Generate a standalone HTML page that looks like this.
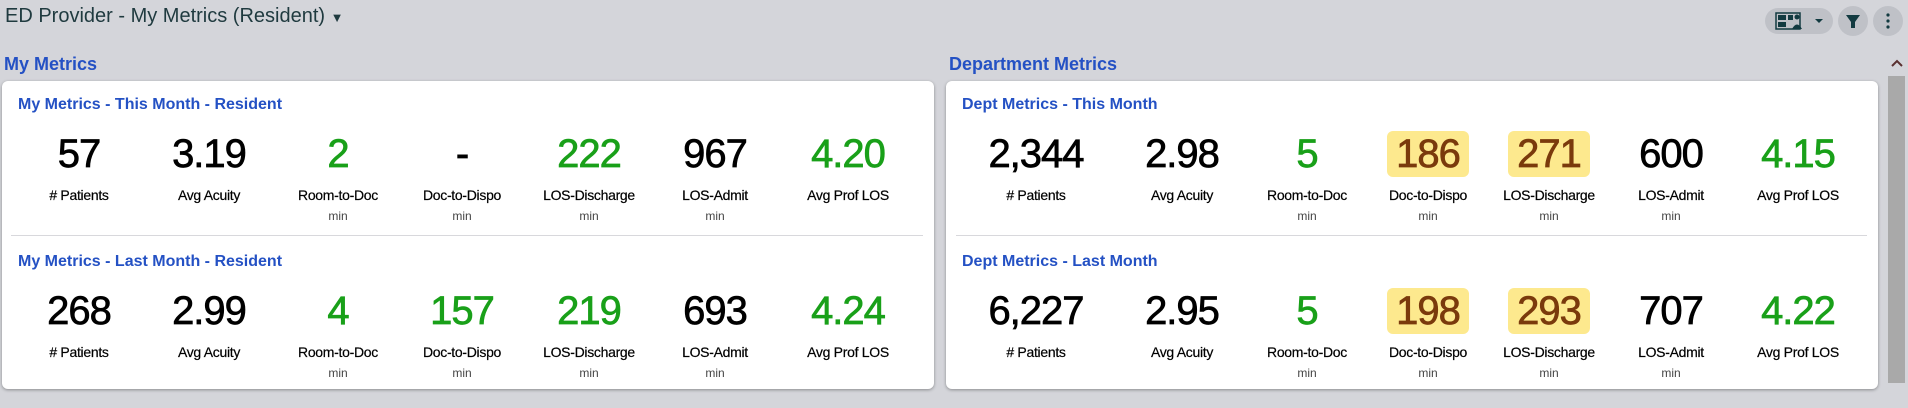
<!DOCTYPE html>
<html><head><meta charset="utf-8"><style>
*{box-sizing:border-box;margin:0;padding:0}
body{width:1908px;height:408px;overflow:hidden;background:#d4d5da;font-family:"Liberation Sans",sans-serif;position:relative}
.abs{position:absolute}
.hdr{left:5px;top:5px;font-size:20px;color:#1f3a3f;white-space:nowrap}
.sec{font-size:18px;font-weight:bold;color:#2451c4;white-space:nowrap}
.card{background:#fff;border-radius:6px;box-shadow:0 1px 3px rgba(0,0,0,.35)}
.ct{font-size:16px;font-weight:bold;color:#2451c4;white-space:nowrap}
.div{height:1px;background:#d8d8dc}
.m{width:140px;text-align:center}
.v{font-size:40px;line-height:46px;height:46px;color:#000;letter-spacing:-1px;-webkit-text-stroke:0.7px currentColor}
.v.g{color:#19a019}
.v.y{color:#7a3a0c;background:#fde98e;border-radius:6px;margin:0 auto}
.l{font-size:14px;color:#000;margin-top:10px;white-space:nowrap;letter-spacing:-.3px;-webkit-text-stroke:0.2px #000}
.u{font-size:12px;color:#444;margin-top:6px}
.pill{background:#bfc1c7;border-radius:14px}
</style></head><body>
<div class="abs hdr">ED Provider - My Metrics (Resident) <span style="font-size:13px">&#9660;</span></div>
<div class="abs pill" style="left:1765px;top:8px;width:68px;height:26px">
<svg width="68" height="26"><rect x="11" y="5" width="24" height="16" fill="none" stroke="#123a40" stroke-width="1.5"/><rect x="13" y="7" width="8" height="5" fill="#123a40"/><rect x="13" y="14" width="8" height="5" fill="#123a40"/><rect x="23" y="7" width="5" height="5" fill="#123a40"/><circle cx="32" cy="9" r="2.5" fill="#123a40"/><path d="M27 21 Q32 12 37 21Z" fill="#123a40"/><path d="M50 11 L58 11 L54 15Z" fill="#123a40"/></svg></div>
<div class="abs pill" style="left:1838px;top:6px;width:30px;height:30px;border-radius:15px"><svg width="30" height="30"><path d="M8 9 L22 9 L17 16 L17 22 L13 22 L13 16Z" fill="#123a40"/></svg></div>
<div class="abs pill" style="left:1873px;top:6px;width:30px;height:30px;border-radius:15px"><svg width="30" height="30"><circle cx="15" cy="9" r="1.6" fill="#123a40"/><circle cx="15" cy="15" r="1.6" fill="#123a40"/><circle cx="15" cy="21" r="1.6" fill="#123a40"/></svg></div>
<div class="abs" style="left:1888px;top:56px;width:18px;height:14px"><svg width="18" height="14"><path d="M4 10 L9 5 L14 10" fill="none" stroke="#5a3030" stroke-width="2"/></svg></div>
<div class="abs" style="left:1888px;top:76px;width:17px;height:307px;background:#a9a9a9"></div>

<div class="abs sec" style="left:4px;top:54px">My Metrics</div>
<div class="abs sec" style="left:949px;top:54px">Department Metrics</div>
<div class="abs card" style="left:2px;top:81px;width:932px;height:308px"></div>
<div class="abs card" style="left:946px;top:81px;width:932px;height:308px"></div>
<div class="abs div" style="left:11px;top:235px;width:912px"></div>
<div class="abs div" style="left:956px;top:235px;width:911px"></div>
<div class="abs ct" style="left:18px;top:96px">My Metrics - This Month - Resident</div>
<div class="abs ct" style="left:18px;top:253px">My Metrics - Last Month - Resident</div>
<div class="abs ct" style="left:962px;top:96px">Dept Metrics - This Month</div>
<div class="abs ct" style="left:962px;top:253px">Dept Metrics - Last Month</div>
<div id="root"></div>
<script>
const labels=["# Patients","Avg Acuity","Room-to-Doc","Doc-to-Dispo","LOS-Discharge","LOS-Admit","Avg Prof LOS"];
const units=["","","min","min","min","min",""];
const myThis=["57","3.19","2","-","222","967","4.20"];
const myThisStyle=["","","g","","g","","g"];
const myLast=["268","2.99","4","157","219","693","4.24"];
const myLastStyle=["","","g","g","g","","g"];
const deptThis=["2,344","2.98","5","186","271","600","4.15"];
const deptThisStyle=["","","g","y","y","","g"];
const deptLast=["6,227","2.95","5","198","293","707","4.22"];
const deptLastStyle=["","","g","y","y","","g"];
const leftCols=[79,209,338,462,589,715,848];
const rightCols=[1036,1182,1307,1428,1549,1671,1798];
const root=document.getElementById('root');
function row(vals,styles,cols,top,prefix){
  vals.forEach((v,i)=>{
    const m=document.createElement('div');
    m.className='abs m';
    m.style.left=(cols[i]-70)+'px';m.style.top=top+'px';
    
    
    const st=styles[i];
    const w=st==='y'?'width:82px;':'';
    m.innerHTML='<div class="v '+st+'" style="'+w+'">'+v+'</div><div class="l">'+labels[i]+'</div>'+(units[i]?'<div class="u">'+units[i]+'</div>':'');
    root.appendChild(m);
  });
}
row(myThis,myThisStyle,leftCols,131,'my-this');
row(myLast,myLastStyle,leftCols,288,'my-last');
row(deptThis,deptThisStyle,rightCols,131,'dept-this');
row(deptLast,deptLastStyle,rightCols,288,'dept-last');
</script>
</body></html>
